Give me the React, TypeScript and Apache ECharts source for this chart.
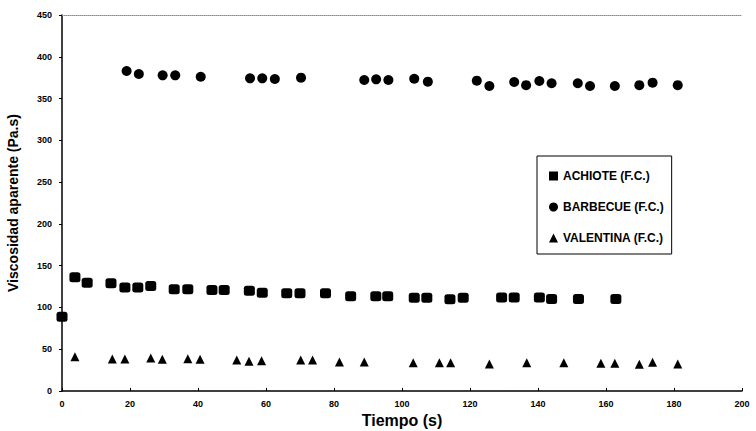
import React, { useEffect, useRef } from "react";
import * as echarts from "echarts";

const achioteT = [0, 3.8, 7.4, 14.4, 18.5, 22.3, 26.1, 33, 37, 44.1, 47.7, 55.1, 58.9, 66.1, 70, 77.5, 84.9, 92.3, 95.8, 103.6, 107.3, 114.1, 118, 129.3, 133, 140.4, 144, 151.9, 162.9];
const achioteV = [89, 136, 129.6, 128.9, 124, 124, 125.6, 121.7, 121.7, 120.9, 120.9, 120, 117.7, 117, 117, 117, 113.3, 113.3, 113.3, 111.7, 111.7, 109.7, 111.7, 112, 112, 112, 110, 110, 110];

const barbecueT = [19, 22.6, 29.6, 33.3, 40.8, 55.3, 58.9, 62.6, 70.3, 88.9, 92.4, 96, 103.6, 107.6, 122, 125.7, 133, 136.5, 140.4, 144, 151.7, 155.3, 162.6, 169.8, 173.7, 181.1];
const barbecueV = [383, 379.4, 377.8, 377.8, 376.1, 374.2, 374.2, 373.4, 375, 372.2, 373, 372.2, 373.7, 370.2, 371.4, 365, 369.8, 366, 371, 368.3, 368.3, 365, 365, 366, 369, 366];

const valentinaT = [3.8, 14.8, 18.5, 26.1, 29.5, 37, 40.6, 51.4, 55, 58.7, 70.2, 73.7, 81.6, 88.9, 103.3, 111, 114.3, 125.7, 136.7, 147.6, 158.5, 162.6, 169.8, 173.7, 181.1];
const valentinaV = [41, 38.3, 38.3, 39.5, 37.9, 38.7, 37.9, 37.1, 35.5, 36.3, 37.1, 37.1, 34.7, 34.7, 33.9, 33.9, 33.9, 32.3, 33.9, 33.9, 33.1, 33.1, 32, 34.3, 32.3];

const seriesNames = ["ACHIOTE (F.C.)", "BARBECUE (F.C.)", "VALENTINA (F.C.)"];

const zip = (t: number[], v: number[]) => t.map((x, i) => [x, v[i]]);

const FONT = "'Liberation Sans', Arial, sans-serif";

export default function App() {
  const ref = useRef<HTMLDivElement>(null);
  useEffect(() => {
    if (!ref.current) return;
    const chart = echarts.init(ref.current, undefined, { renderer: "svg" });
    const markStyle = { color: "#000", opacity: 1 };
    chart.setOption({
      animation: false,
      backgroundColor: "#ffffff",
      grid: { left: 62, right: 14, top: 15, bottom: 40, outerBoundsMode: "none", containLabel: false },
      legend: {
        orient: "vertical",
        left: 537,
        top: 156,
        padding: [14, 8, 10, 12],
        itemGap: 19,
        itemWidth: 9,
        itemHeight: 9,
        borderColor: "#000",
        borderWidth: 1,
        textStyle: { fontFamily: FONT, fontWeight: "bold", fontSize: 12, color: "#000", width: 150 },
        data: [
          { name: seriesNames[0], icon: "rect" },
          { name: seriesNames[1], icon: "circle" },
          { name: seriesNames[2], icon: "triangle" },
        ],
      },
      xAxis: [
        {
          type: "value",
          min: 0,
          max: 200,
          interval: 20,
          name: "Tiempo (s)",
          nameLocation: "middle",
          nameGap: 19,
          nameTextStyle: { fontFamily: FONT, fontWeight: "bold", fontSize: 16, color: "#000" },
          axisLine: { lineStyle: { color: "#000", width: 1.5 } },
          axisTick: { show: true, length: 3, inside: true, lineStyle: { color: "#000" } },
          axisLabel: { fontFamily: FONT, fontWeight: "bold", fontSize: 9, color: "#000", margin: 8 },
          splitLine: { show: false },
        },
        {
          type: "value",
          position: "top",
          min: 0,
          max: 200,
          axisLine: { show: true, lineStyle: { color: "#888", type: "dotted", width: 1 } },
          axisTick: { show: false },
          axisLabel: { show: false },
          splitLine: { show: false },
        },
      ],
      yAxis: {
        type: "value",
        min: 0,
        max: 450,
        interval: 50,
        name: "Viscosidad aparente (Pa.s)",
        nameLocation: "middle",
        nameGap: 42,
        nameTextStyle: { fontFamily: FONT, fontWeight: "bold", fontSize: 14, color: "#000" },
        axisLine: { show: true, lineStyle: { color: "#000", width: 1.5 } },
        axisTick: { show: true, length: 3, lineStyle: { color: "#000" } },
        axisLabel: { fontFamily: FONT, fontWeight: "bold", fontSize: 9, color: "#000", margin: 10 },
        splitLine: { show: false },
      },
      series: [
        {
          name: seriesNames[0],
          type: "scatter",
          symbol: "roundRect",
          symbolSize: [11, 10],
          itemStyle: markStyle,
          data: zip(achioteT, achioteV),
        },
        {
          name: seriesNames[1],
          type: "scatter",
          symbol: "circle",
          symbolSize: 10,
          itemStyle: markStyle,
          data: zip(barbecueT, barbecueV),
        },
        {
          name: seriesNames[2],
          type: "scatter",
          symbol: "triangle",
          symbolSize: 9,
          itemStyle: markStyle,
          data: zip(valentinaT, valentinaV),
        },
      ],
    });
    return () => chart.dispose();
  }, []);
  return <div ref={ref} style={{ width: 756, height: 431, position: "absolute", left: 0, top: 0 }} />;
}
